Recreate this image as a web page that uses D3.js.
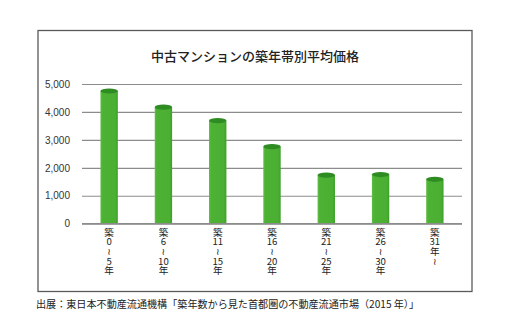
<!DOCTYPE html>
<html><head><meta charset="utf-8">
<script src="https://cdn.jsdelivr.net/npm/d3@7"></script>
<style>body{margin:0;background:#fff}svg{display:block}</style>
</head><body>
<script>
const title = "中古マンションの築年帯別平均価格";
const source = "出展：東日本不動産流通機構「築年数から見た首都圏の不動産流通市場（2015 年）」";
const categories = ["築0～5年","築6～10年","築11～15年","築16～20年","築21～25年","築26～30年","築31年～"];
const labelLines = [["築","0","≀","5","年"],["築","6","≀","10","年"],["築","11","≀","15","年"],["築","16","≀","20","年"],["築","21","≀","25","年"],["築","26","≀","30","年"],["築","31","年","≀"]];
const values = [4750, 4170, 3690, 2760, 1740, 1760, 1590];
const yTicks = [0, 1000, 2000, 3000, 4000, 5000];

const W = 510, H = 327;
const svg = d3.select("body").append("svg").attr("width", W).attr("height", H);
const defs = svg.append("defs");
const g = defs.append("linearGradient").attr("id","cyl").attr("x1","0").attr("x2","1").attr("y1","0").attr("y2","0");
g.append("stop").attr("offset","0").attr("stop-color","#62bd46");
g.append("stop").attr("offset","0.12").attr("stop-color","#4db234");
g.append("stop").attr("offset","0.85").attr("stop-color","#4aaf32");
g.append("stop").attr("offset","1").attr("stop-color","#3e9f2a");

// frame
svg.append("rect").attr("x",38).attr("y",30.5).attr("width",434).attr("height",261)
  .attr("fill","#fff").attr("stroke","#5a5a5a").attr("stroke-width",1.3);

svg.append("text").attr("x",255).attr("y",55).attr("text-anchor","middle").attr("dominant-baseline","central")
  .attr("font-family","'Noto Sans CJK JP'").attr("font-size",13).attr("font-weight",500).attr("fill","#222").text(title);

const x = d3.scaleBand().domain(categories).range([82, 462]).paddingInner(0.68).paddingOuter(0.34);
const y = d3.scaleLinear().domain([0, 5000]).range([223.7, 84]);

// grid
const gy = svg.append("g").attr("transform","translate(82,0)")
  .call(d3.axisLeft(y).tickValues(yTicks).tickSize(-380).tickFormat(d3.format(",")));
gy.select(".domain").remove();
gy.selectAll(".tick line").attr("stroke","#8c8c8c").attr("stroke-width",1.2);
gy.selectAll(".tick text").attr("x",-12).attr("fill","#333")
  .attr("font-family","'Liberation Sans', Arial, sans-serif").attr("font-size",10);

// bars
const bars = svg.append("g");
categories.forEach((c,i)=>{
  const bx = x(c), bw = x.bandwidth(), top = y(values[i]), base = y(0);
  bars.append("rect").attr("x",bx).attr("y",top).attr("width",bw).attr("height",base-top).attr("fill","url(#cyl)");
  bars.append("ellipse").attr("cx",bx+bw/2).attr("cy",top).attr("rx",bw/2).attr("ry",2.6).attr("fill","#2f8c22");
});
svg.append("line").attr("x1",82).attr("x2",462).attr("y1",y(0)).attr("y2",y(0)).attr("stroke","#8c8c8c").attr("stroke-width",1.2);

// x labels: one text per category, stacked lines as tspans
const xl = svg.append("g").attr("font-family","'Noto Sans CJK JP', 'DejaVu Sans'").attr("font-size",9.6).attr("fill","#222");
categories.forEach((c,i)=>{
  const cx = x(c) + x.bandwidth()/2;
  const t = xl.append("text").attr("text-anchor","middle");
  labelLines[i].forEach((s,j)=>{
    t.append("tspan").attr("x",cx).attr("y",235.5 + j*9.7).text(s);
  });
});

svg.append("text").attr("x",36).attr("y",303).attr("dominant-baseline","central")
  .attr("font-family","'Noto Sans CJK JP'").attr("font-size",10.1).attr("fill","#222").text(source);
</script>
</body></html>
